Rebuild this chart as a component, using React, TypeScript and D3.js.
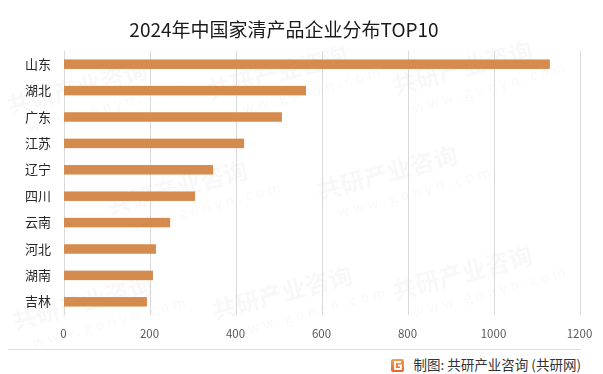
import React, { useEffect, useRef } from "react";
import * as d3 from "d3";

const provinces = ["山东", "湖北", "广东", "江苏", "辽宁", "四川", "云南", "河北", "湖南", "吉林"];
const companyCounts = [1131, 564, 508, 420, 348, 306, 248, 215, 208, 194];
const xTicks = [0, 200, 400, 600, 800, 1000, 1200];

const title = "2024年中国家清产品企业分布TOP10";
const source = "制图: 共研产业咨询 (共研网)";

const W = 603;
const H = 374;
const FONT = "'Noto Sans CJK SC', 'Noto Sans', sans-serif";

export default function App() {
  const svgRef = useRef<SVGSVGElement>(null);

  useEffect(() => {
    if (!svgRef.current) return;
    const svg = d3.select(svgRef.current);
    svg.selectAll("*").remove();

    svg.append("rect").attr("width", W).attr("height", H).attr("fill", "#fff");

    // faint watermark, kept inside the frame
    const wm = svg.append("g").attr("fill", "#000").attr("opacity", 0.03).attr("font-family", FONT);
    const spots = [
      [10, 115], [210, 100], [395, 95], [110, 215], [320, 200], [15, 330], [215, 320], [395, 300],
    ];
    spots.forEach(([x, y]) => {
      const g = wm.append("g").attr("transform", `translate(${x},${y}) rotate(-15)`);
      g.append("text").attr("font-size", 24).attr("font-weight", "bold").text("共研产业咨询");
      g.append("text").attr("y", 22).attr("x", 14).attr("font-size", 14).attr("letter-spacing", 4).text("www.gonyn.com");
    });

    const margin = { left: 63.5, right: 23.5, top: 51, bottom: 59 };
    const x = d3.scaleLinear().domain([0, 1200]).range([margin.left, W - margin.right]);
    const y = d3
      .scaleBand<string>()
      .domain(provinces)
      .range([margin.top, H - margin.bottom])
      .paddingInner(0.64)
      .paddingOuter(0.32);

    // title
    svg
      .append("text")
      .attr("x", 284)
      .attr("y", 37)
      .attr("text-anchor", "middle")
      .attr("font-family", FONT)
      .attr("font-size", 19)
      .attr("fill", "#1a1a1a")
      .text(title);

    // gridlines
    svg
      .append("g")
      .selectAll("line")
      .data(xTicks)
      .join("line")
      .attr("x1", (d) => Math.round(x(d)) + 0.5)
      .attr("x2", (d) => Math.round(x(d)) + 0.5)
      .attr("y1", margin.top)
      .attr("y2", H - margin.bottom)
      .attr("stroke", "#d9d9d9")
      .attr("stroke-width", 1);

    // bars
    svg
      .append("g")
      .selectAll("rect")
      .data(provinces)
      .join("rect")
      .attr("x", x(0) + 0.5)
      .attr("y", (d) => y(d)!)
      .attr("width", (d, i) => x(companyCounts[i]) - x(0) - 0.5)
      .attr("height", y.bandwidth())
      .attr("fill", "#D68B4E");

    // category labels
    svg
      .append("g")
      .selectAll("text")
      .data(provinces)
      .join("text")
      .attr("x", 51)
      .attr("y", (d) => y(d)! + y.bandwidth() / 2)
      .attr("dy", "0.36em")
      .attr("text-anchor", "end")
      .attr("font-family", FONT)
      .attr("font-size", 13)
      .attr("fill", "#262626")
      .text((d) => d);

    // x tick labels
    svg
      .append("g")
      .selectAll("text")
      .data(xTicks)
      .join("text")
      .attr("x", (d) => x(d))
      .attr("y", 334)
      .attr("dy", "0.36em")
      .attr("text-anchor", "middle")
      .attr("font-family", FONT)
      .attr("font-size", 11.5)
      .attr("fill", "#595959")
      .text((d) => d);

    // separator line
    svg
      .append("line")
      .attr("x1", 8)
      .attr("x2", 581)
      .attr("y1", 349.5)
      .attr("y2", 349.5)
      .attr("stroke", "#dcdcdc");

    // source logo
    const defs = svg.append("defs");
    const grad = defs.append("linearGradient").attr("id", "logoGrad").attr("x1", 0).attr("y1", 0).attr("x2", 0).attr("y2", 1);
    grad.append("stop").attr("offset", "0%").attr("stop-color", "#F6A04D");
    grad.append("stop").attr("offset", "100%").attr("stop-color", "#E8622C");
    const logo = svg.append("g").attr("transform", "translate(391,359)");
    logo.append("rect").attr("width", 13).attr("height", 13).attr("rx", 2).attr("fill", "url(#logoGrad)");
    logo
      .append("path")
      .attr("d", "M10 3 H4 V10 H10 V6.5 H7")
      .attr("fill", "none")
      .attr("stroke", "#fff")
      .attr("stroke-width", 1.8);

    svg
      .append("text")
      .attr("x", 581)
      .attr("y", 365)
      .attr("dy", "0.36em")
      .attr("text-anchor", "end")
      .attr("font-family", FONT)
      .attr("font-size", 13.5)
      .attr("fill", "#333")
      .text(source);
  }, []);

  return (
    <div style={{ position: "absolute", left: 0, top: 0 }}>
      <svg ref={svgRef} width={W} height={H} />
    </div>
  );
}
